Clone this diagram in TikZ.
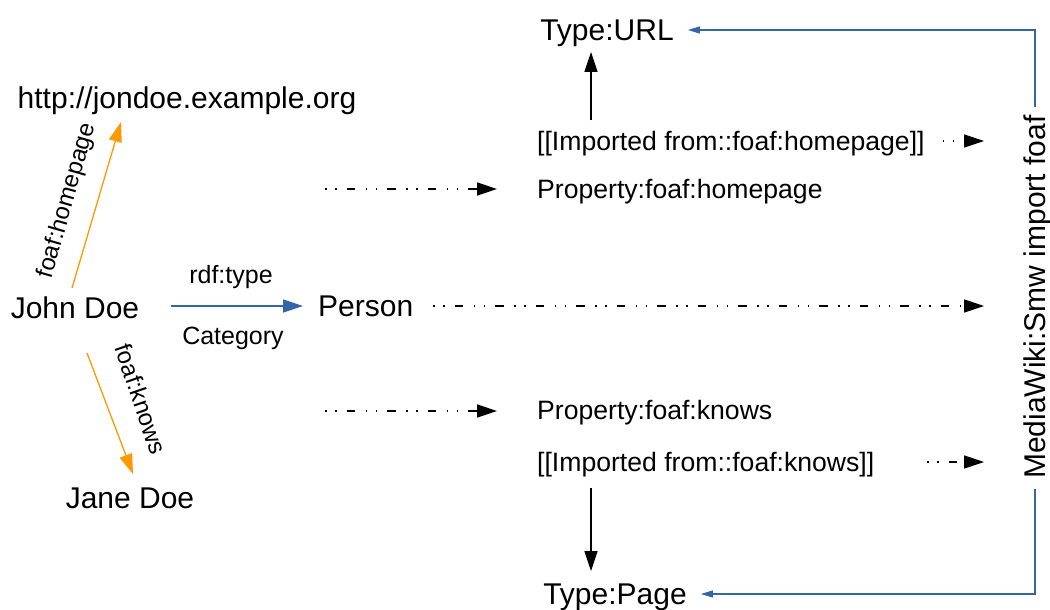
\documentclass[tikz,border=0pt]{standalone}
\usepackage{fontspec}
\setmainfont{Liberation Sans}
\usetikzlibrary{arrows.meta,calc}
\definecolor{linkorange}{HTML}{FF9900}
\definecolor{linkblue}{HTML}{3465A4}
\begin{document}
\begin{tikzpicture}[x=1pt,y=-1pt,
  lbl/.style={inner sep=0pt, text depth=0pt},
  big/.style={lbl, font=\fontsize{30}{30}\selectfont, text height=21.5pt},
  mid/.style={lbl, font=\fontsize{26.6}{26.6}\selectfont, text height=19pt},
  sml/.style={lbl, font=\fontsize{25}{25}\selectfont, text height=17.9pt},
  edgelbl/.style={lbl, font=\fontsize{24}{24}\selectfont, text height=17.2pt},
  orangearrow/.style={draw=linkorange, line width=1.3pt,
    -{Triangle[length=20pt,width=13pt]}},
  bluearrow/.style={draw=linkblue, line width=1.3pt,
    -{Triangle[length=20pt,width=13pt]}},
  bluebracket/.style={draw=linkblue, line width=1.2pt,
    -{Triangle[length=12pt,width=7pt]}},
  solidarrow/.style={draw=black, line width=1.3pt,
    -{Triangle[length=20pt,width=13pt]}},
  importarrow/.style={draw=black, line width=1.4pt,
    dash pattern=on 1.5pt off 8.5pt on 1.5pt off 10pt on 8.5pt off 10.5pt,
    -{Triangle[length=20pt,width=13pt]}},
]
\useasboundingbox (0,0) rectangle (1050,610);

% RDF side
\node[big] (http) at (187,98) {http://jondoe.example.org};
\node[big] (john) at (75,308) {John Doe};
\node[big] (jane) at (130,498) {Jane Doe};
\node[big, anchor=west] (person) at (318,306) {Person};
\node[sml] (rdf) at (231,275) {rdf:type};
\node[sml] (cat) at (233,336) {Category};

% wiki pages
\node[big] (url) at (607,30) {Type:URL};
\node[mid, anchor=west] (imphp) at (537,141) {[[Imported from::foaf:homepage]]};
\node[mid, anchor=west] (prophp) at (537,189) {Property:foaf:homepage};
\node[mid, anchor=west] (propkn) at (537,410) {Property:foaf:knows};
\node[mid, anchor=west] (impkn) at (537,462) {[[Imported from::foaf:knows]]};
\node[big] (page) at (615,594) {Type:Page};
\node[big, rotate=90] (mw) at (1035,297) {MediaWiki:Smw import foaf};

% triples
\draw[orangearrow] ($(john.north)+(-3,-9)$) -- ($(http.south)+(-66,13)$);
\node[edgelbl, rotate=74] (hplbl) at (65,200) {foaf:homepage};
\draw[orangearrow] ($(john.south)+(12,34)$) -- ($(jane.north)+(3,-13)$);
\node[edgelbl, rotate=-71] (knlbl) at (141,399) {foaf:knows};
\draw[bluearrow] ($(john.east)+(32,-2)$) -- ($(person.west)+(-15,0)$);

% import links
\coordinate (hpin) at (325,189);
\coordinate (knin) at (325,411);
\draw[importarrow] (hpin) -- ($(prophp.west)+(-40,0)$);
\draw[importarrow] (knin) -- ($(propkn.west)+(-40,1)$);
\draw[importarrow] ($(person.east)+(20,0)$) -- ($(person.east -| mw.north)+(-40,0)$);
\draw[importarrow] ($(imphp.east)+(18,0)$) -- ($(imphp.east -| mw.north)+(-40,0)$);
\draw[importarrow] ($(impkn.east)+(53,0)$) -- ($(impkn.east -| mw.north)+(-40,0)$);

% types
\draw[solidarrow] ($(imphp.north west)+(54,-11)$) -- ($(url.south)+(-16,11)$);
\draw[solidarrow] ($(impkn.south west)+(54,16)$) -- ($(page.north)+(-24,-12)$);
\draw[bluebracket] ($(mw.east)+(0,-8)$) |- ($(url.east)+(14,0)$);
\draw[bluebracket] ($(mw.west)+(0,10)$) |- ($(page.east)+(14,0)$);
\end{tikzpicture}
\end{document}
